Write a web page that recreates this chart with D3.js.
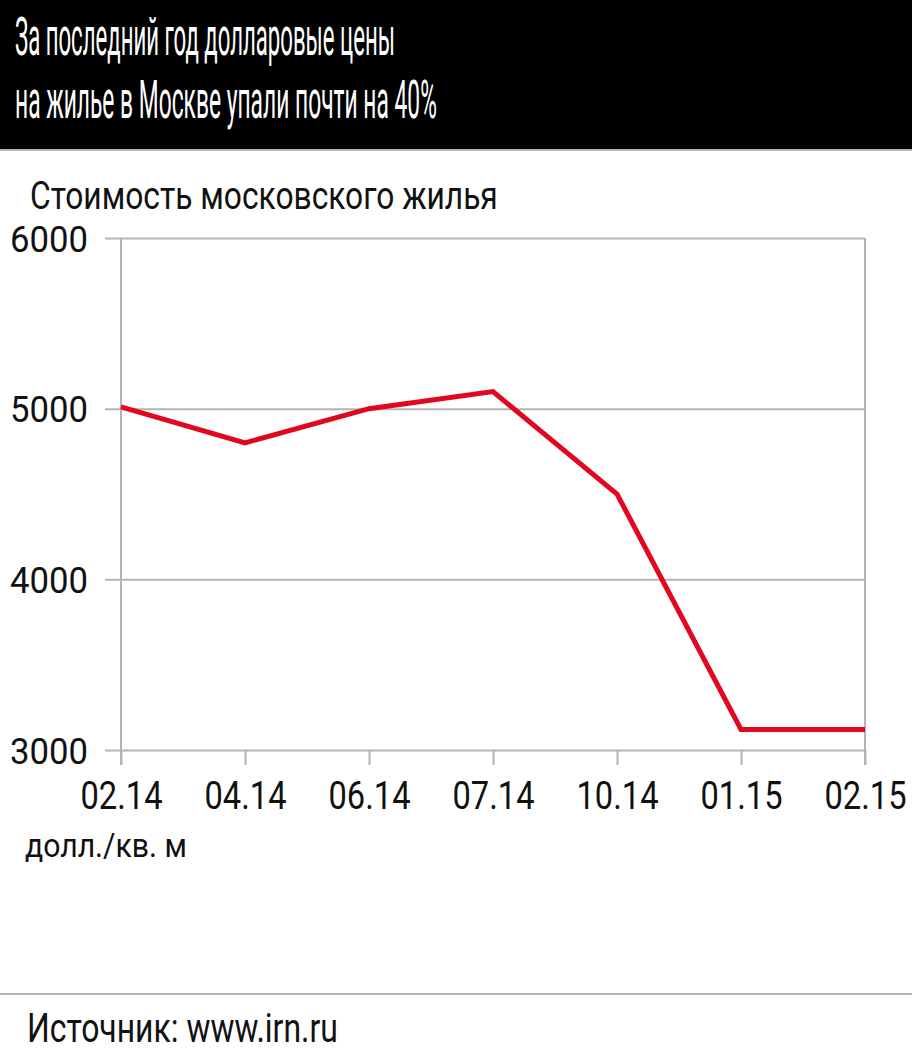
<!DOCTYPE html>
<html>
<head>
<meta charset="utf-8">
<script src="https://cdn.jsdelivr.net/npm/d3@7"></script>
<style>
  html, body { margin: 0; padding: 0; background: #fff; }
  svg { display: block; }
  text { font-family: "Roboto", "Liberation Sans", sans-serif; }
</style>
</head>
<body>
<script>
const categories = ["02.14", "04.14", "06.14", "07.14", "10.14", "01.15", "02.15"];
const values = [5010, 4800, 5000, 5100, 4500, 3120, 3120];
const yTicks = [3000, 4000, 5000, 6000];
const titleLines = ["За последний год долларовые цены", "на жилье в Москве упали почти на 40%"];
const subtitle = "Стоимость московского жилья";
const unitLabel = "долл./кв. м";
const sourceText = "Источник: www.irn.ru";

const W = 912, H = 1051;
const svg = d3.select("body").append("svg").attr("width", W).attr("height", H);

// condense text horizontally to a target width, scaling around its anchor x
function fit(sel, w) {
  sel.each(function() {
    const L = this.getComputedTextLength();
    const s = w / L;
    const ax = +(this.getAttribute("x") || 0);
    this.setAttribute("transform", `translate(${ax},0) scale(${s},1) translate(${-ax},0)`);
  });
}

// Header
svg.append("rect").attr("x", 0).attr("y", 0).attr("width", W).attr("height", 149).attr("fill", "#000");
svg.append("line").attr("x1", 0).attr("x2", W).attr("y1", 150).attr("y2", 150)
  .attr("stroke", "#b5b5b5").attr("stroke-width", 2);
const tl = svg.append("text").attr("x", 15).attr("y", 55).attr("fill", "#fff")
  .attr("font-size", 53).attr("font-weight", 400).text(titleLines[0]);
fit(tl, 380);
const tl2 = svg.append("text").attr("x", 15).attr("y", 118).attr("fill", "#fff")
  .attr("font-size", 53).attr("font-weight", 400).text(titleLines[1]);
fit(tl2, 422);

// Subtitle
const st = svg.append("text").attr("x", 30).attr("y", 209).attr("fill", "#111")
  .attr("font-size", 38).text(subtitle);
fit(st, 468);

// Scales
const x = d3.scalePoint().domain(categories).range([121, 865]);
const y = d3.scaleLinear().domain([3000, 6000]).range([750, 238]);

// Y grid + labels
const yAxis = svg.append("g").attr("transform", "translate(865,0)")
  .call(d3.axisLeft(y).tickValues(yTicks).tickSize(760).tickPadding(17).tickFormat(d3.format("d")));
yAxis.select(".domain").remove();
yAxis.selectAll(".tick line").attr("stroke", "#b3b3b3").attr("stroke-width", 2);
yAxis.selectAll(".tick text").attr("font-size", 37).attr("fill", "#111")
  .attr("font-family", "Roboto, sans-serif").attr("dy", "0.36em")
  .call(fit, 78);

// X ticks + labels
const xAxis = svg.append("g").attr("transform", "translate(0,750)")
  .call(d3.axisBottom(x).tickSize(15).tickPadding(16));
xAxis.select(".domain").remove();
xAxis.selectAll(".tick line").attr("stroke", "#b3b3b3").attr("stroke-width", 2);
xAxis.selectAll(".tick text").attr("font-size", 39).attr("fill", "#111")
  .attr("font-family", "Roboto, sans-serif").attr("dy", "0.71em")
  .call(fit, 82);

// Vertical frame lines
[x(categories[0]), x(categories[categories.length - 1])].forEach(px => {
  svg.append("line").attr("x1", px).attr("x2", px).attr("y1", y(6000)).attr("y2", y(3000) + 15)
    .attr("stroke", "#b3b3b3").attr("stroke-width", 2);
});

// Line
const line = d3.line().x((d, i) => x(categories[i])).y(d => y(d));
svg.append("path").datum(values).attr("d", line).attr("fill", "none")
  .attr("stroke", "#e2061f").attr("stroke-width", 5).attr("stroke-linejoin", "miter");

// Unit label
const ul = svg.append("text").attr("x", 25).attr("y", 857).attr("fill", "#111")
  .attr("font-size", 33).text(unitLabel);
fit(ul, 162);

// Footer
svg.append("line").attr("x1", 0).attr("x2", W).attr("y1", 994).attr("y2", 994)
  .attr("stroke", "#b5b5b5").attr("stroke-width", 2);
const src = svg.append("text").attr("x", 27).attr("y", 1042).attr("fill", "#111")
  .attr("font-size", 40).text(sourceText);
fit(src, 311);
</script>
</body>
</html>
